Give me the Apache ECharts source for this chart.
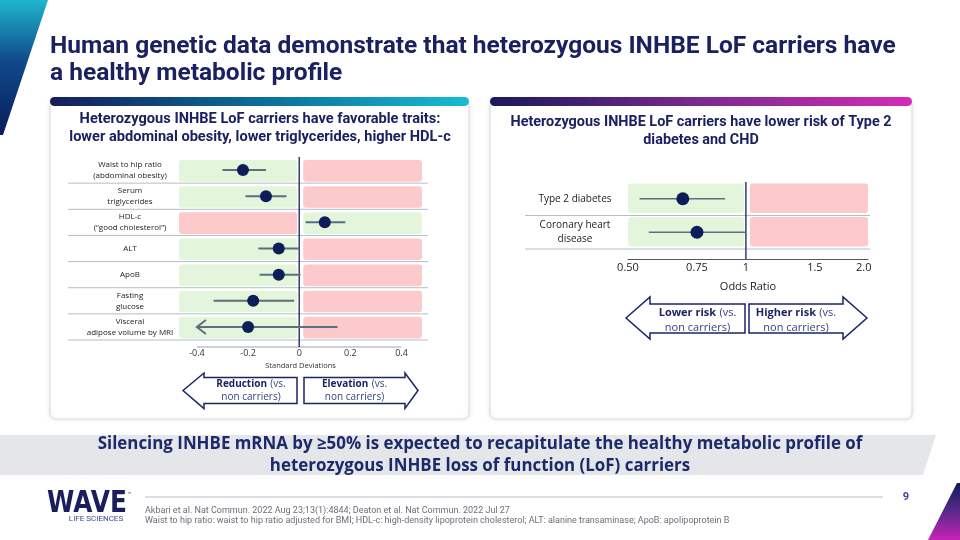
<!DOCTYPE html>
<html><head><meta charset="utf-8">
<script src="https://cdn.jsdelivr.net/npm/echarts@6/dist/echarts.min.js"></script>
<style>html,body{margin:0;padding:0;background:#fff}#c{width:960px;height:540px}</style>
</head><body><div id="c"></div>
<script>
// ---------- data ----------
const traitCategories = ['Waist to hip ratio\n(abdominal obesity)', 'Serum\ntriglycerides', 'HDL-c\n(\u201cgood cholesterol\u201d)', 'ALT', 'ApoB', 'Fasting\nglucose', 'Visceral\nadipose volume by MRI'];
const traitEstimates = [-0.22, -0.13, 0.10, -0.08, -0.08, -0.18, -0.20];
const traitLower = [-0.30, -0.21, 0.025, -0.16, -0.155, -0.335, -0.40];
const traitUpper = [-0.13, -0.05, 0.18, 0.0, 0.005, -0.02, 0.15];
const traitLowerTruncated = [false, false, false, false, false, false, true];
const traitFavorableSide = [-1, -1, 1, -1, -1, -1, -1];
const traitTickValues = [-0.4, -0.2, 0, 0.2, 0.4];
const traitTickLabels = ['-0.4', '-0.2', '0', '0.2', '0.4'];

const diseaseCategories = ['Type 2 diabetes', 'Coronary heart\ndisease'];
const diseaseOR = [0.69, 0.75];
const diseaseLower = [0.535, 0.565];
const diseaseUpper = [0.885, 1.0];
const diseaseFavorableSide = [-1, -1];
const orTickValues = [0.5, 0.75, 1, 1.5, 2];
const orTickLabels = ['0.50', '0.75', '1', '1.5', '2.0'];

// ---------- style ----------
const NAVY = '#1b2566';
const DOT = '#0c1d57';
const BAR = '#5c6e80';
const GREEN = '#e3f6dc';
const RED = '#fccaca';
const SEP = '#b4bccb';
const REFLINE = '#2e3d6e';
const FONT = 'Open Sans';

const LEFT_RANGE = [-0.47, 0.48];
const RIGHT_RANGE = [0.5, 2.05];

function pickLabel(vals, labels) {
  return function (v) {
    for (let i = 0; i < vals.length; i++) if (Math.abs(vals[i] - v) < 1e-9) return labels[i];
    return '';
  };
}

function panelRenderer(cfg) {
  return function (params, api) {
    const idx = api.value(1);
    const fav = api.value(2);
    const n = cfg.n;
    const band = api.size([0, 1])[1];
    const c = api.coord([cfg.ref, idx]);
    const lo = api.coord([cfg.range[0], idx]);
    const hi = api.coord([cfg.range[1], idx]);
    const top = c[1] - band / 2, bot = c[1] + band / 2;
    const y0 = top + cfg.insetTop, h = band - cfg.insetTop - cfg.insetBottom;
    const leftColor = fav < 0 ? GREEN : RED;
    const rightColor = fav < 0 ? RED : GREEN;
    const children = [
      { type: 'rect', shape: { x: lo[0], y: y0, width: c[0] - cfg.gapL - lo[0], height: h, r: 3 }, style: { fill: leftColor } },
      { type: 'rect', shape: { x: c[0] + cfg.gapR, y: y0, width: hi[0] - c[0] - cfg.gapR, height: h, r: 3 }, style: { fill: rightColor } },
      { type: 'line', shape: { x1: lo[0] - cfg.sepLeft, y1: bot, x2: hi[0] + cfg.sepRight, y2: bot }, style: { stroke: SEP, lineWidth: 1 } }
    ];
    if (idx === n - 1) {
      const gTop = api.coord([cfg.ref, 0])[1] - band / 2;
      const axisY = bot + cfg.axisOffset;
      children.push({ type: 'line', z2: 20, shape: { x1: c[0], y1: gTop, x2: c[0], y2: axisY }, style: { stroke: REFLINE, lineWidth: 1.5 } });
      if (cfg.axisFrom != null) {
        const a = api.coord([cfg.axisFrom, idx])[0], b = api.coord([cfg.axisTo, idx])[0];
        children.push({ type: 'line', shape: { x1: a, y1: axisY, x2: b, y2: axisY }, style: { stroke: '#9aa3b0', lineWidth: 1 } });
      }
    }
    return { type: 'group', children: children };
  };
}

function errRenderer(width) {
  return function (params, api) {
    const idx = api.value(1);
    const p1 = api.coord([api.value(0), idx]);
    const p2 = api.coord([api.value(2), idx]);
    const children = [{ type: 'line', shape: { x1: p1[0], y1: p1[1], x2: p2[0], y2: p2[1] }, style: { stroke: BAR, lineWidth: width } }];
    if (api.value(3)) {
      children.push({ type: 'polyline', shape: { points: [[p1[0] + 9, p1[1] - 7], [p1[0], p1[1]], [p1[0] + 9, p1[1] + 7]] }, style: { stroke: BAR, lineWidth: width, fill: null } });
    }
    return { type: 'group', children: children };
  };
}

const leftPanelData = traitCategories.map((c, i) => [0, i, traitFavorableSide[i]]);
const rightPanelData = diseaseCategories.map((c, i) => [1, i, diseaseFavorableSide[i]]);
const leftErrData = traitCategories.map((c, i) => [traitLower[i], i, traitUpper[i], traitLowerTruncated[i] ? 1 : 0]);
const rightErrData = diseaseCategories.map((c, i) => [diseaseLower[i], i, diseaseUpper[i], 0]);
const leftDotData = traitCategories.map((c, i) => [traitEstimates[i], i]);
const rightDotData = diseaseCategories.map((c, i) => [diseaseOR[i], i]);

// ---------- slide decorations ----------
function arrow(points) {
  return { type: 'polygon', shape: { points: points }, style: { fill: '#fff', stroke: NAVY, lineWidth: 1.5 } };
}
function arrowText(x, y, boldWord, size, lh) {
  return {
    type: 'text', x: x, y: y,
    style: {
      text: '{b|' + boldWord + '} {n|(vs.}\n{n|non carriers)}',
      align: 'center', verticalAlign: 'middle', lineHeight: lh,
      rich: {
        b: { fontFamily: FONT, fontSize: size, fontWeight: 'bold', fill: NAVY, lineHeight: lh },
        n: { fontFamily: FONT, fontSize: size, fill: '#34447e', lineHeight: lh }
      }
    }
  };
}

const graphics = [
  { type: 'polygon', shape: { points: [[0, 0], [48, 0], [3, 135], [0, 135]] },
    style: { fill: new echarts.graphic.LinearGradient(0, 0, 0, 1, [{ offset: 0, color: '#1fb6cc' }, { offset: 0.45, color: '#0f4a8c' }, { offset: 1, color: '#0b1c5a' }]) } },
  { type: 'polygon', shape: { points: [[957, 483], [960, 483], [960, 540], [928, 540]] },
    style: { fill: new echarts.graphic.LinearGradient(0, 0, 0, 1, [{ offset: 0, color: '#0b1c5a' }, { offset: 0.5, color: '#5a2a8a' }, { offset: 1, color: '#c722b8' }]) } },
  { type: 'text', x: 50, y: 34, style: { text: 'Human genetic data demonstrate that heterozygous INHBE LoF carriers have\na healthy metabolic profile', fontFamily: 'Roboto', fontWeight: 'bold', fontSize: 24.5, lineHeight: 26.5, fill: '#1a2160' } },
  { type: 'rect', shape: { x: 50, y: 100, width: 419, height: 319, r: 6 }, style: { fill: '#fff', stroke: '#d9dce2', lineWidth: 1, shadowBlur: 4, shadowColor: 'rgba(0,0,0,0.10)' } },
  { type: 'rect', shape: { x: 490, y: 100, width: 422, height: 319, r: 6 }, style: { fill: '#fff', stroke: '#d9dce2', lineWidth: 1, shadowBlur: 4, shadowColor: 'rgba(0,0,0,0.10)' } },
  { type: 'rect', shape: { x: 50, y: 97, width: 419, height: 9, r: 4.5 },
    style: { fill: new echarts.graphic.LinearGradient(0, 0, 1, 0, [{ offset: 0, color: '#141d5a' }, { offset: 0.5, color: '#0b6c9a' }, { offset: 1, color: '#17bcd2' }]) } },
  { type: 'rect', shape: { x: 490, y: 97, width: 422, height: 9, r: 4.5 },
    style: { fill: new echarts.graphic.LinearGradient(0, 0, 1, 0, [{ offset: 0, color: '#1b1a5a' }, { offset: 0.5, color: '#7a2a8e' }, { offset: 1, color: '#d22cb8' }]) } },
  { type: 'text', x: 260, y: 110, style: { text: 'Heterozygous INHBE LoF carriers have favorable traits:\nlower abdominal obesity, lower triglycerides, higher HDL-c', align: 'center', fontFamily: 'Roboto', fontWeight: 'bold', fontSize: 14.6, lineHeight: 18, fill: '#1a2160' } },
  { type: 'text', x: 701, y: 113, style: { text: 'Heterozygous INHBE LoF carriers have lower risk of Type 2\ndiabetes and CHD', align: 'center', fontFamily: 'Roboto', fontWeight: 'bold', fontSize: 14.4, lineHeight: 18, fill: '#1a2160' } },
  arrow([[183, 390.5], [204, 373], [204, 377.5], [297, 377.5], [297, 403.5], [204, 403.5], [204, 408.5]]),
  arrow([[418, 390.5], [405, 373], [405, 377.5], [304, 377.5], [304, 403.5], [405, 403.5], [405, 408.5]]),
  arrowText(251, 391, 'Reduction', 10, 13),
  arrowText(354.5, 391, 'Elevation', 10, 13),
  arrow([[626, 318], [650, 297], [650, 304], [745, 304], [745, 333], [650, 333], [650, 339]]),
  arrow([[867, 318], [843, 297], [843, 304], [749, 304], [749, 333], [843, 333], [843, 339]]),
  arrowText(697.5, 320, 'Lower risk', 11, 15),
  arrowText(796, 320, 'Higher risk', 11, 15),
  { type: 'polygon', shape: { points: [[0, 435], [936, 435], [923, 475], [0, 475]] }, style: { fill: '#e5e6ea' } },
  { type: 'text', x: 480, y: 433, style: { text: 'Silencing INHBE mRNA by \u226550% is expected to recapitulate the healthy metabolic profile of\nheterozygous INHBE loss of function (LoF) carriers', align: 'center', fontFamily: FONT, fontWeight: 'bold', fontSize: 16.9, lineHeight: 22, fill: '#1c2a6b' } },
  { type: 'line', shape: { x1: 145, y1: 497, x2: 883, y2: 497 }, style: { stroke: '#b8bcc4', lineWidth: 1 } },
  { type: 'text', x: 906, y: 497, style: { text: '9', align: 'center', verticalAlign: 'middle', fontFamily: 'Roboto', fontWeight: 'bold', fontSize: 11, fill: '#3a3fa0' } },
  { type: 'text', x: 145, y: 506, style: { text: 'Akbari et al. Nat Commun. 2022 Aug 23;13(1):4844; Deaton et al. Nat Commun. 2022 Jul 27\nWaist to hip ratio: waist to hip ratio adjusted for BMI; HDL-c: high-density lipoprotein cholesterol; ALT: alanine transaminase; ApoB: apolipoprotein B', fontFamily: 'Roboto', fontSize: 9, lineHeight: 10, fill: '#6b6f78' } },
  { type: 'text', x: 47, y: 488, scaleX: 0.8, style: { text: 'WAVE', fontFamily: 'DejaVu Sans', fontWeight: 'bold', fontSize: 31, fill: '#1b1e5c' } },
  { type: 'text', x: 127, y: 492, style: { text: '\u2122', fontFamily: 'DejaVu Sans', fontSize: 5, fill: '#1b1e5c' } },
  { type: 'text', x: 96, y: 519, style: { text: 'LIFE SCIENCES', align: 'center', verticalAlign: 'middle', fontFamily: 'Roboto', fontSize: 8, fill: '#3b4a8a' } }
];

// ---------- chart ----------
const chart = echarts.init(document.getElementById('c'), null, { renderer: 'canvas' });
chart.setOption({
  animation: false,
  backgroundColor: '#fff',
  textStyle: { fontFamily: FONT },
  graphic: { elements: graphics },
  grid: [
    { left: 179, top: 157, width: 243, height: 183 },
    { left: 628, top: 182, width: 240, height: 67 }
  ],
  xAxis: [
    { type: 'value', gridIndex: 0, min: LEFT_RANGE[0], max: LEFT_RANGE[1], offset: 7,
      axisLine: { show: false }, axisTick: { show: false }, splitLine: { show: false },
      axisLabel: { customValues: traitTickValues, formatter: pickLabel(traitTickValues, traitTickLabels), fontSize: 9, margin: 2, color: '#333', fontFamily: FONT },
      name: 'Standard Deviations', nameLocation: 'middle', nameGap: 15, nameTextStyle: { fontSize: 7.5, color: '#333', fontFamily: FONT } },
    { type: 'log', logBase: 2, gridIndex: 1, min: RIGHT_RANGE[0], max: RIGHT_RANGE[1], offset: 10,
      axisLine: { show: true, lineStyle: { color: '#556', width: 1 } }, axisTick: { show: false }, splitLine: { show: false },
      axisLabel: { customValues: orTickValues, formatter: pickLabel(orTickValues, orTickLabels), fontSize: 11, margin: 3, color: '#222', fontFamily: FONT },
      name: 'Odds Ratio', nameLocation: 'middle', nameGap: 22, nameTextStyle: { fontSize: 11, color: '#222', fontFamily: FONT } }
  ],
  yAxis: [
    { type: 'category', gridIndex: 0, data: traitCategories, inverse: true,
      axisLine: { show: false }, axisTick: { show: false }, splitLine: { show: false },
      axisLabel: { align: 'center', margin: 49, fontSize: 8, lineHeight: 11, color: '#222', fontFamily: FONT } },
    { type: 'category', gridIndex: 1, data: diseaseCategories, inverse: true,
      axisLine: { show: false }, axisTick: { show: false }, splitLine: { show: false },
      axisLabel: { align: 'center', margin: 53, fontSize: 10, lineHeight: 13.5, color: '#222', fontFamily: FONT } }
  ],
  series: [
    { type: 'custom', xAxisIndex: 0, yAxisIndex: 0, z: 1, silent: true,
      renderItem: panelRenderer({ n: traitCategories.length, ref: 0, range: LEFT_RANGE, insetTop: 3, insetBottom: 1.5, gapL: 2, gapR: 4, sepLeft: 111, sepRight: 6, axisOffset: 7, axisFrom: -0.4, axisTo: 0.4 }),
      encode: { x: 0, y: 1 }, data: leftPanelData },
    { type: 'custom', xAxisIndex: 0, yAxisIndex: 0, z: 3, silent: true,
      renderItem: errRenderer(2), encode: { x: [0, 2], y: 1 }, data: leftErrData },
    { type: 'scatter', xAxisIndex: 0, yAxisIndex: 0, z: 5, symbolSize: 12, itemStyle: { color: DOT, opacity: 1 }, data: leftDotData },
    { type: 'custom', xAxisIndex: 1, yAxisIndex: 1, z: 1, silent: true,
      renderItem: panelRenderer({ n: diseaseCategories.length, ref: 1, range: RIGHT_RANGE, insetTop: 1.5, insetBottom: 2.5, gapL: 2, gapR: 4, sepLeft: 103, sepRight: 2, axisOffset: 10, axisFrom: null }),
      encode: { x: 0, y: 1 }, data: rightPanelData },
    { type: 'custom', xAxisIndex: 1, yAxisIndex: 1, z: 3, silent: true,
      renderItem: errRenderer(1.5), encode: { x: [0, 2], y: 1 }, data: rightErrData },
    { type: 'scatter', xAxisIndex: 1, yAxisIndex: 1, z: 5, symbolSize: 13, itemStyle: { color: DOT, opacity: 1 }, data: rightDotData }
  ]
});
</script></body></html>
